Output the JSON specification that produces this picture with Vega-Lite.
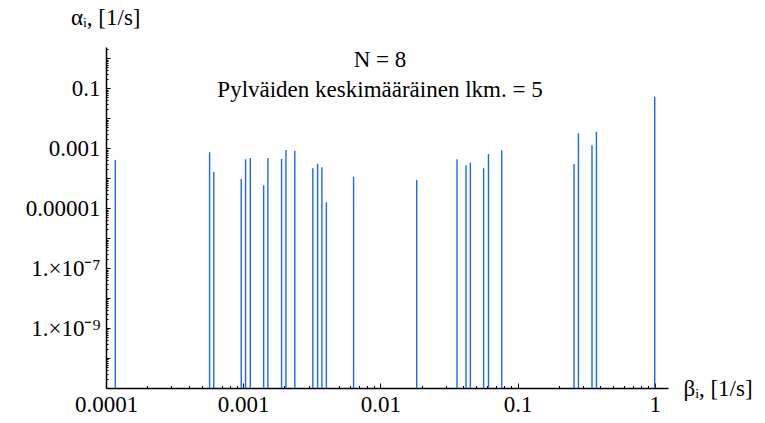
{
  "$schema": "https://vega.github.io/schema/vega-lite/v6.json",
  "width": 562,
  "height": 341,
  "autosize": "none",
  "padding": {"left": 106, "top": 47, "right": 97, "bottom": 35},
  "background": "white",
  "config": {"view": {"stroke": null}, "font": "Liberation Serif, Times New Roman, serif"},
  "title": {
    "text": ["N = 8", "Pylväiden keskimääräinen lkm. = 5"],
    "font": "Liberation Serif, Times New Roman, serif",
    "fontSize": 23,
    "fontWeight": "normal",
    "color": "black",
    "lineHeight": 30,
    "anchor": "middle",
    "frame": "group",
    "orient": "top",
    "baseline": "alphabetic",
    "offset": -114,
    "dx": -7
  },
  "data": {
    "values": [
      {"beta": 0.000117, "alpha": 0.00041},
      {"beta": 0.000569, "alpha": 0.00074},
      {"beta": 0.000611, "alpha": 0.000162},
      {"beta": 0.000968, "alpha": 0.000095},
      {"beta": 0.001041, "alpha": 0.00043},
      {"beta": 0.001127, "alpha": 0.000475},
      {"beta": 0.00141, "alpha": 0.0000585},
      {"beta": 0.001514, "alpha": 0.000475},
      {"beta": 0.001905, "alpha": 0.00044},
      {"beta": 0.00205, "alpha": 0.00088},
      {"beta": 0.00238, "alpha": 0.00083},
      {"beta": 0.00322, "alpha": 0.000216},
      {"beta": 0.00349, "alpha": 0.000307},
      {"beta": 0.00375, "alpha": 0.000233},
      {"beta": 0.00404, "alpha": 0.0000158},
      {"beta": 0.00638, "alpha": 0.000113},
      {"beta": 0.0184, "alpha": 0.000088},
      {"beta": 0.0362, "alpha": 0.00043},
      {"beta": 0.0421, "alpha": 0.000271},
      {"beta": 0.0453, "alpha": 0.000331},
      {"beta": 0.0566, "alpha": 0.000216},
      {"beta": 0.0614, "alpha": 0.000645},
      {"beta": 0.0767, "alpha": 0.000858},
      {"beta": 0.258, "alpha": 0.0003},
      {"beta": 0.278, "alpha": 0.00316},
      {"beta": 0.349, "alpha": 0.00126},
      {"beta": 0.376, "alpha": 0.00358},
      {"beta": 1.0, "alpha": 0.0525}
    ]
  },
  "mark": {"type": "rule", "color": "#1a66ff", "strokeWidth": 1.4},
  "encoding": {
    "x": {
      "field": "beta",
      "type": "quantitative",
      "scale": {"type": "log", "domain": [0.0001, 1.25], "nice": false},
      "axis": {
        "values": [0.0001, 0.0002, 0.0003, 0.0004, 0.0005, 0.0006, 0.0007, 0.0008, 0.0009, 0.001, 0.002, 0.003, 0.004, 0.005, 0.006, 0.007, 0.008, 0.009, 0.01, 0.02, 0.03, 0.04, 0.05, 0.06, 0.07, 0.08, 0.09, 0.1, 0.2, 0.3, 0.4, 0.5, 0.6, 0.7, 0.8, 0.9, 1],
        "labelExpr": "abs(datum.value/pow(10,round(log(datum.value)/LN10))-1)<1e-6 ? '' + datum.value : ''",
        "grid": false,
        "domainColor": "black",
        "domainWidth": 1.5,
        "tickColor": "black",
        "tickWidth": 1,
        "tickSize": {"condition": {"test": "abs(datum.value/pow(10,round(log(datum.value)/LN10))-1)<1e-6", "value": -5}, "value": -2.5},
        "labelFont": "Liberation Serif, Times New Roman, serif",
        "labelFontSize": 23,
        "labelColor": "black",
        "labelPadding": 10,
        "labelOverlap": false,
        "labelFlush": false,
        "title": "βᵢ, [1/s]",
        "titleFont": "Liberation Serif, Times New Roman, serif",
        "titleFontSize": 23,
        "titleFontWeight": "normal",
        "titleColor": "black",
        "titleAngle": 0,
        "titleAlign": "left",
        "titleBaseline": "alphabetic",
        "titleX": 577,
        "titleY": 7
      }
    },
    "y": {
      "field": "alpha",
      "type": "quantitative",
      "scale": {"type": "log", "domain": [1e-11, 2.4], "nice": false},
      "axis": {
        "values": [1e-11, 2e-11, 3e-11, 4e-11, 5e-11, 6e-11, 7e-11, 8e-11, 9e-11, 1e-10, 2e-10, 3e-10, 4e-10, 5e-10, 6e-10, 7e-10, 8e-10, 9e-10, 1e-9, 2e-9, 3e-9, 4e-9, 5e-9, 6e-9, 7e-9, 8e-9, 9e-9, 1e-8, 2e-8, 3e-8, 4e-8, 5e-8, 6e-8, 7e-8, 8e-8, 9e-8, 1e-7, 2e-7, 3e-7, 4e-7, 5e-7, 6e-7, 7e-7, 8e-7, 9e-7, 1e-6, 2e-6, 3e-6, 4e-6, 5e-6, 6e-6, 7e-6, 8e-6, 9e-6, 1e-5, 2e-5, 3e-5, 4e-5, 5e-5, 6e-5, 7e-5, 8e-5, 9e-5, 1e-4, 2e-4, 3e-4, 4e-4, 5e-4, 6e-4, 7e-4, 8e-4, 9e-4, 0.001, 0.002, 0.003, 0.004, 0.005, 0.006, 0.007, 0.008, 0.009, 0.01, 0.02, 0.03, 0.04, 0.05, 0.06, 0.07, 0.08, 0.09, 0.1, 0.2, 0.3, 0.4, 0.5, 0.6, 0.7, 0.8, 0.9, 1, 2],
        "labelExpr": "abs(datum.value/pow(10,round(log(datum.value)/LN10))-1)>1e-6 ? '' : (round(log(datum.value)/LN10)==-1 ? '0.1' : round(log(datum.value)/LN10)==-3 ? '0.001' : round(log(datum.value)/LN10)==-5 ? '0.00001' : round(log(datum.value)/LN10)==-7 ? '1.×10⁻⁷' : round(log(datum.value)/LN10)==-9 ? '1.×10⁻⁹' : '')",
        "grid": false,
        "domainColor": "black",
        "domainWidth": 1.5,
        "tickColor": "black",
        "tickWidth": 1,
        "tickSize": {"condition": {"test": "abs(datum.value/pow(10,round(log(datum.value)/LN10))-1)<1e-6", "value": -4}, "value": -2},
        "labelFont": "Liberation Serif, Times New Roman, serif",
        "labelFontSize": 23,
        "labelColor": "black",
        "labelPadding": 10,
        "labelOverlap": false,
        "labelFlush": false,
        "title": "αᵢ, [1/s]",
        "titleFont": "Liberation Serif, Times New Roman, serif",
        "titleFontSize": 23,
        "titleFontWeight": "normal",
        "titleColor": "black",
        "titleAngle": 0,
        "titleAlign": "right",
        "titleBaseline": "alphabetic",
        "titleX": 34,
        "titleY": -23
      }
    },
    "y2": {"datum": 1e-11}
  }
}
